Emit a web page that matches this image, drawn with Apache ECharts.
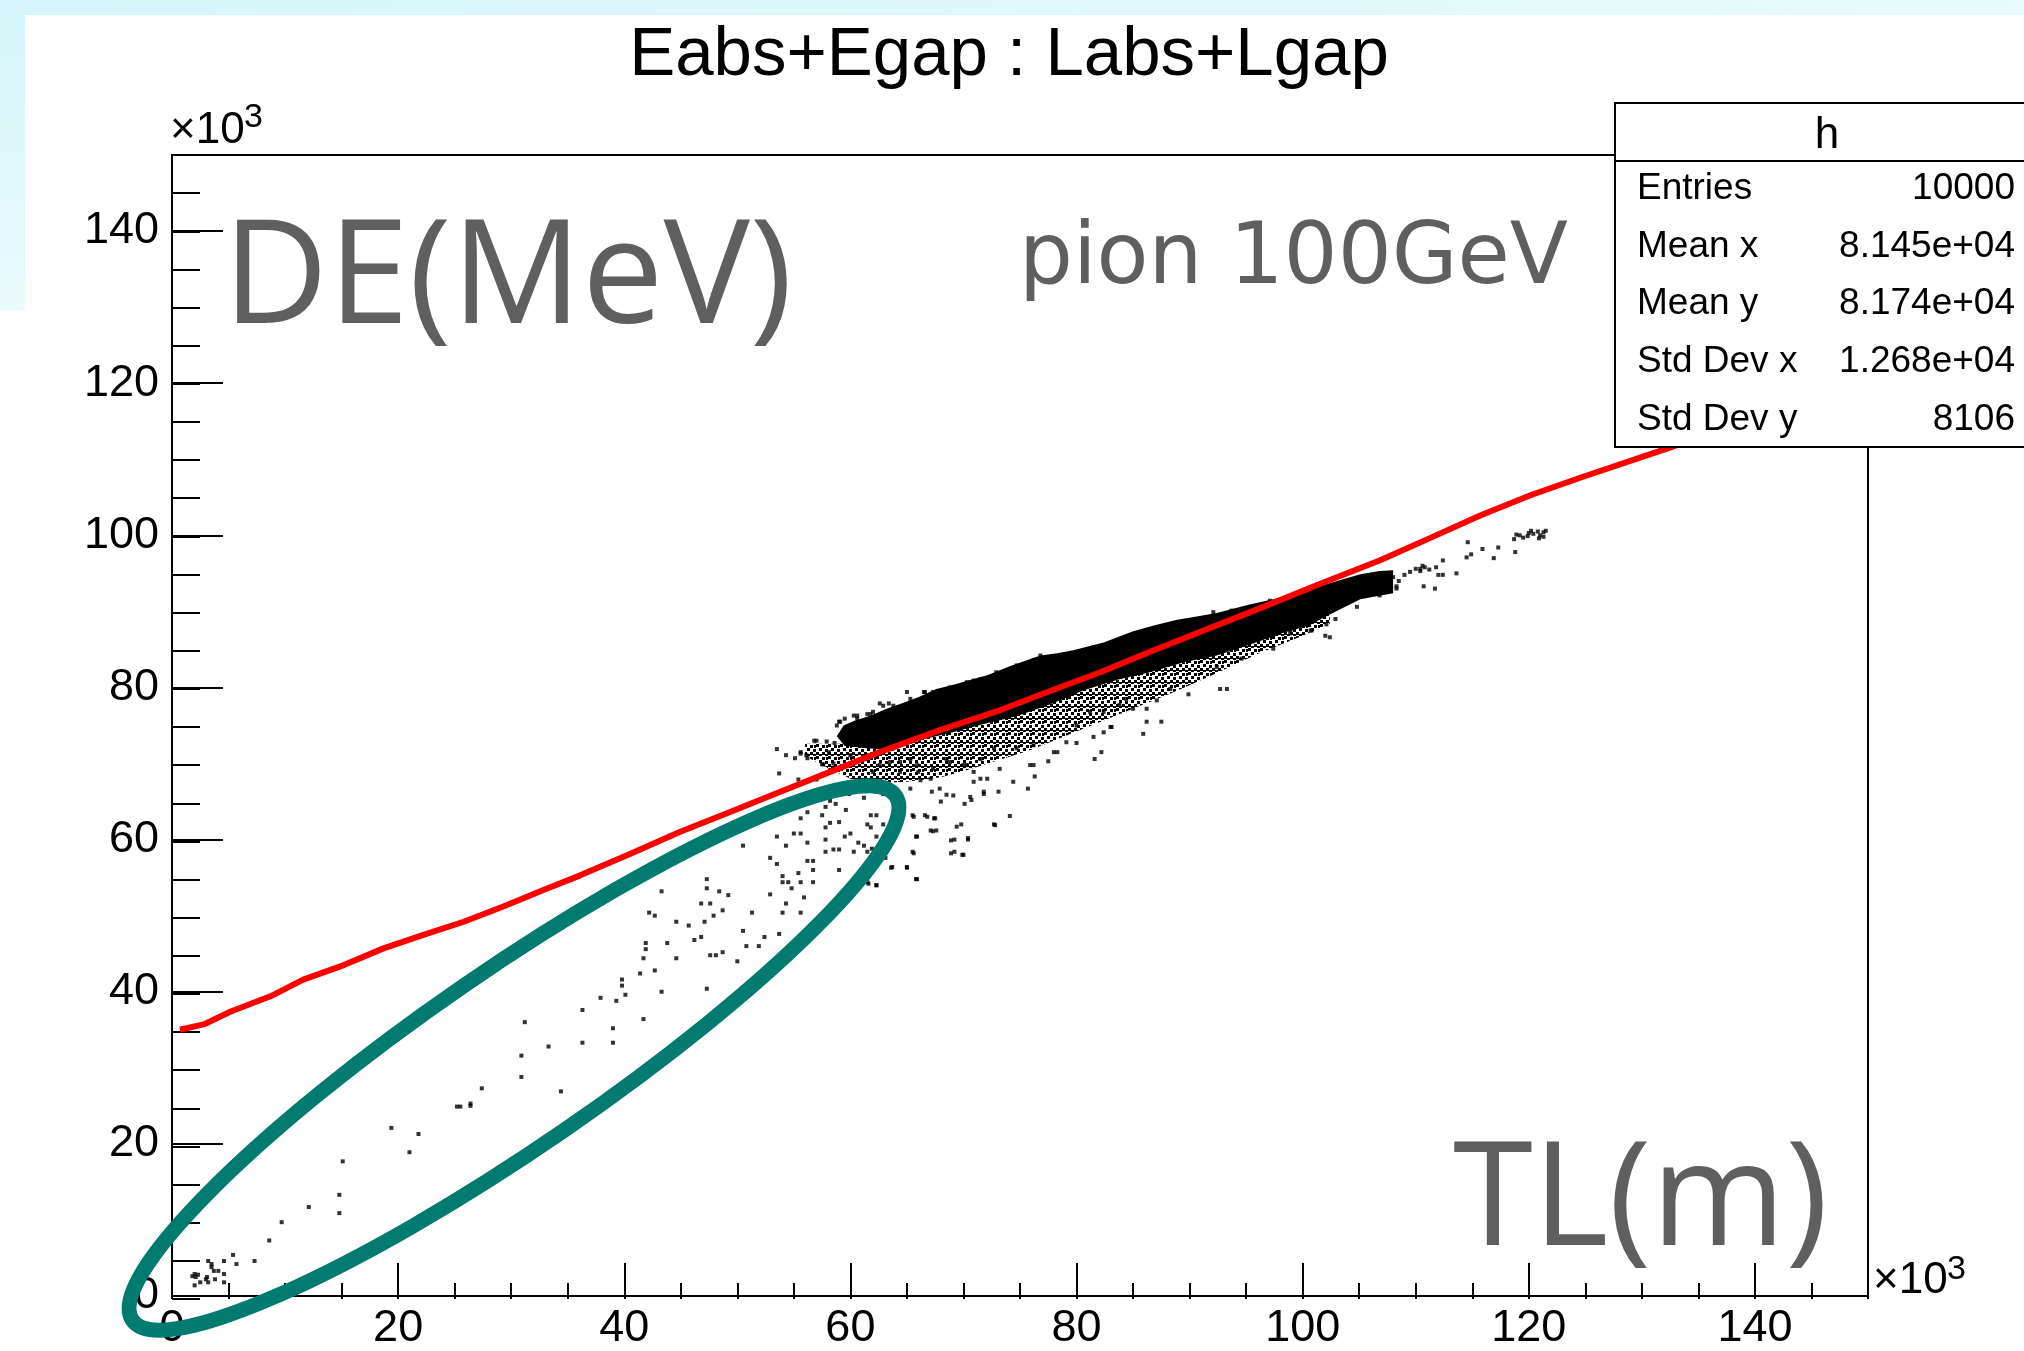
<!DOCTYPE html>
<html>
<head>
<meta charset="utf-8">
<script src="https://cdn.jsdelivr.net/npm/echarts@6/dist/echarts.min.js"></script>
<style>
  html, body { margin: 0; padding: 0; background: #fff; }
  #chart { width: 2024px; height: 1351px; }
</style>
</head>
<body>
<div id="chart"></div>
<script>
(() => {
  "use strict";

  // values in units of 10^3 (axes read "x10^3")
  const xRange = [0, 150];
  const yRange = [0, 150];

  // red profile line
  const profileLine = [
    [0.7, 35.0], [2.8, 35.7], [5.2, 37.4], [8.7, 39.4], [11.6, 41.6], [15.2, 43.5],
    [18.7, 45.7], [22.3, 47.5], [25.8, 49.2], [29.3, 51.2], [32.9, 53.4], [36.1, 55.3],
    [40.5, 58.1], [44.9, 61.0], [49.3, 63.6], [53.8, 66.3], [58.2, 68.9], [62.6, 71.5],
    [67.9, 74.4], [73.2, 77.0], [77.6, 79.5], [82.1, 82.0], [86.5, 84.7], [90.9, 87.3],
    [96.2, 90.4], [101.5, 93.6], [106.8, 96.7], [111.2, 99.6], [115.7, 102.6],
    [120.2, 105.3], [124.8, 107.7], [132.8, 111.7], [141.0, 116.0], [150.0, 120.5],
  ];

  // solid core of the scatter band: upper and lower edges
  const coreUpper = [
    [58.8, 73.6], [59.4, 75.0], [60.3, 75.6], [61.8, 76.3], [63.2, 77.2], [64.7, 78.0],
    [66.0, 78.7], [67.6, 79.8], [69.2, 80.4], [70.9, 81.1], [72.1, 81.6], [74.1, 82.8],
    [76.8, 84.2], [78.3, 84.5], [79.7, 84.9], [82.4, 85.9], [85.0, 87.4], [87.0, 88.2],
    [88.9, 88.9], [90.5, 89.3], [92.4, 89.8], [95.3, 90.9], [98.3, 91.9], [101.5, 93.3],
    [103.5, 94.2], [105.1, 94.9], [106.8, 95.3], [108.0, 95.4],
  ];
  const coreLower = [
    [59.5, 72.3], [62.9, 71.8], [65.9, 73.0], [68.8, 74.0], [71.8, 75.2], [74.7, 76.2],
    [77.7, 77.8], [80.6, 79.6], [83.6, 81.0], [86.5, 82.0], [89.5, 83.3], [92.4, 84.2],
    [95.3, 85.6], [98.3, 87.2], [100.5, 88.1], [102.4, 89.6], [105.1, 91.6], [108.0, 92.4],
  ];

  // speckled (half-filled) zone just under the core
  const speckleUpper = [
    [56.0, 72.6], [59.5, 72.6], [62.9, 72.2], [65.9, 73.3], [68.8, 74.3], [71.8, 75.5],
    [74.7, 76.5], [77.7, 78.1], [80.6, 79.9], [83.6, 81.3], [86.5, 82.3], [89.5, 83.6],
    [92.4, 84.5], [95.3, 85.9], [98.3, 87.5], [100.5, 88.4], [102.4, 89.8],
  ];
  const speckleLower = [
    [56.0, 71.0], [58.0, 69.4], [60.0, 68.0], [62.0, 67.4], [65.0, 67.6], [68.0, 68.2],
    [70.0, 69.0], [73.0, 70.4], [76.0, 71.8], [80.0, 74.2], [84.0, 76.6], [88.0, 79.0],
    [92.0, 81.6], [96.0, 84.4], [100.0, 86.8], [102.4, 88.4],
  ];

  // sparse low-energy tail (inside the drawn ellipse)
  const tailPoints = [
    [43.3, 53.2], [42.2, 50.4], [42.7, 50.0], [44.6, 49.2], [45.7, 48.7], [41.9, 46.4],
    [41.9, 45.6], [43.8, 46.4], [41.7, 44.4], [44.6, 44.4], [42.7, 42.8], [41.4, 42.4],
    [39.8, 41.6], [39.8, 40.8], [40.1, 39.6], [43.3, 40.0], [37.9, 39.2], [39.3, 38.8],
    [36.3, 37.6], [41.7, 36.4], [31.2, 36.0], [39.0, 35.2], [33.3, 32.8], [36.3, 33.3],
    [39.0, 33.3], [30.9, 31.6], [30.9, 28.8], [34.4, 26.9], [27.4, 27.3], [25.2, 24.9],
    [25.5, 24.9], [26.4, 25.0], [26.4, 25.3], [19.4, 22.1], [21.8, 21.3], [21.0, 18.9],
    [15.1, 17.7], [14.8, 13.3], [14.8, 10.9], [12.1, 11.7], [9.7, 9.7], [8.6, 7.3],
    [5.4, 5.4], [5.7, 4.2], [7.3, 4.6],
    [3.2, 4.6], [3.5, 3.8], [3.7, 3.3], [4.6, 4.6], [4.1, 3.3], [4.6, 2.9], [2.0, 2.9],
    [2.1, 2.5], [3.1, 2.5], [3.8, 2.2], [3.2, 1.8], [4.6, 1.8], [2.5, 1.8], [2.0, 1.4],
    [1.8, 2.6], [2.3, 2.8], [3.5, 4.2], [3.0, 2.2],
    [47.3, 54.8], [47.3, 53.6], [48.4, 53.2], [49.2, 52.7], [46.8, 51.6], [47.6, 51.6],
    [48.7, 50.7], [47.9, 50.0], [47.1, 49.2], [46.8, 47.2], [46.2, 46.8], [47.6, 44.8],
    [48.1, 44.8], [48.7, 45.2], [50.0, 44.0], [47.3, 40.4], [50.5, 48.0], [50.8, 46.0],
    [51.9, 46.0], [52.4, 47.2], [53.7, 47.6], [51.3, 50.4], [50.5, 59.2], [52.9, 52.8],
    [54.0, 50.4], [55.6, 50.4], [54.3, 51.6], [54.8, 53.6], [55.9, 52.4], [54.0, 54.4],
    [54.5, 54.4], [55.6, 54.4], [56.7, 54.4], [54.0, 55.2], [52.9, 57.6], [53.5, 56.8],
    [55.4, 55.6], [56.2, 57.2], [56.7, 57.2], [56.7, 56.0], [53.5, 60.4], [54.3, 59.2],
    [55.0, 60.8], [55.6, 60.8], [56.2, 59.6], [55.6, 62.8], [56.2, 63.6], [57.5, 63.2],
    [57.8, 61.6], [57.8, 60.0], [57.8, 58.4], [58.5, 58.7], [59.0, 58.7], [59.0, 62.3],
    [58.2, 62.2], [59.5, 60.4], [60.0, 60.8], [60.3, 58.4], [61.5, 58.4], [61.2, 59.2],
    [60.7, 59.6], [61.8, 63.2], [62.3, 63.2], [61.5, 62.0], [61.8, 61.6], [62.9, 62.0],
    [62.3, 60.4], [59.0, 56.0], [61.5, 54.4], [62.3, 54.0], [63.1, 57.6], [63.7, 56.4],
    [65.0, 56.4], [65.8, 54.8], [65.5, 58.4], [65.8, 60.4], [65.5, 63.2], [66.6, 63.2],
    [67.4, 62.8], [67.1, 61.2], [67.6, 61.2], [69.2, 60.0], [70.0, 58.0], [69.2, 58.4],
    [70.4, 60.0], [69.8, 62.0], [72.7, 62.0], [58.7, 66.0], [59.3, 66.7], [59.9, 66.0],
    [61.2, 65.5], [62.3, 66.3], [62.9, 66.0], [58.2, 65.1], [58.7, 64.7], [59.6, 63.9],
    [57.8, 64.3],
  ];

  // loose points around the dense band
  const fringePoints = [
    [53.5, 71.9], [54.3, 71.1], [55.1, 70.7], [55.6, 71.5], [56.2, 70.7], [53.7, 68.7],
    [55.4, 67.9], [57.5, 69.9], [58.1, 71.5], [58.6, 72.7], [57.0, 67.9], [58.2, 69.1],
    [65.3, 70.6], [66.0, 68.9], [67.1, 68.0], [68.5, 70.6], [70.0, 69.8], [70.9, 68.9],
    [71.5, 70.6], [72.1, 68.0], [72.7, 72.0], [67.9, 66.7], [69.1, 65.8], [70.6, 65.6],
    [71.8, 66.0], [65.3, 66.7], [66.2, 67.8], [64.4, 68.9], [63.5, 70.2], [62.0, 68.9],
    [61.5, 70.6], [62.6, 77.9], [63.4, 77.9], [60.3, 76.3], [61.5, 76.5], [59.0, 75.5],
    [56.8, 73.0], [57.9, 72.9], [65.0, 79.4], [66.5, 79.4], [67.9, 78.9], [69.1, 79.4],
    [70.6, 80.3], [71.5, 81.1], [57.0, 73.0], [55.6, 71.3], [56.1, 71.1], [57.6, 69.9],
    [58.5, 70.0], [59.1, 75.5], [59.5, 75.9], [60.6, 76.3], [61.8, 76.5], [62.9, 77.6],
    [66.6, 79.4], [60.0, 71.1], [61.5, 71.1], [62.6, 69.8], [64.4, 70.2], [65.9, 69.8],
    [67.3, 69.3], [68.8, 70.2], [70.3, 69.8], [71.5, 68.0], [73.2, 69.3], [74.7, 72.0],
    [76.2, 72.4], [76.2, 69.8], [78.0, 71.5], [79.1, 72.8], [80.0, 75.0], [81.5, 73.5],
    [82.4, 74.1], [83.0, 74.8], [81.6, 70.6], [82.2, 71.5], [85.9, 73.9], [86.2, 75.5],
    [87.5, 75.5], [87.1, 78.3], [88.3, 79.8], [89.9, 79.1], [92.7, 79.8], [93.3, 79.8],
    [92.4, 82.7], [94.6, 83.8], [97.4, 85.1], [100.7, 87.5], [96.8, 87.5], [98.9, 87.5],
    [65.6, 63.0], [66.8, 63.0], [67.5, 62.8], [69.4, 61.7], [70.4, 60.2], [68.9, 59.9],
    [72.8, 61.9], [74.1, 63.1], [69.9, 58.0], [68.9, 58.2], [67.3, 61.1], [65.9, 60.4],
    [65.6, 58.2], [65.0, 56.3], [63.6, 56.3], [65.9, 54.8], [62.3, 54.0], [61.6, 54.2],
    [62.7, 57.5], [61.9, 58.8], [73.1, 66.3], [71.8, 66.3], [70.9, 67.6], [70.1, 64.7],
    [70.7, 65.2], [68.0, 65.0], [67.2, 66.3], [68.5, 65.9], [75.7, 66.7], [76.3, 68.3],
    [74.4, 67.6], [75.9, 69.8], [77.5, 70.3], [78.3, 71.5], [80.0, 72.7], [86.2, 77.2],
    [85.0, 77.2], [84.4, 78.5], [83.8, 77.7], [81.2, 76.8], [82.4, 76.8], [83.1, 74.8],
    [70.9, 80.9], [76.8, 84.2], [78.1, 83.4], [81.5, 85.3], [92.1, 89.9], [93.7, 90.1],
    [97.1, 91.4], [102.0, 86.8],
    [58.8, 75.0], [60.6, 75.9], [62.0, 76.8], [63.8, 77.6], [65.3, 78.5], [67.3, 79.4],
    [68.8, 80.0], [70.3, 80.7], [72.9, 82.0], [74.7, 82.9], [76.2, 83.6], [78.5, 84.2],
    [80.6, 84.6], [83.6, 86.0], [86.5, 87.3], [88.6, 88.4], [90.9, 89.0],
    [110.4, 95.6], [111.8, 95.8], [112.4, 96.7], [114.5, 97.1], [114.9, 97.5], [115.9, 98.2],
    [116.9, 97.0], [117.3, 98.4], [118.8, 97.8], [114.6, 99.1], [111.7, 93.0], [110.7, 93.3],
    [113.6, 95.0], [112.4, 94.8], [104.8, 90.6], [102.9, 89.0], [102.1, 88.3], [102.4, 86.6],
    [100.8, 87.5], [98.9, 87.1], [106.8, 92.1], [108.3, 93.0], [110.0, 95.6], [110.4, 95.3],
    [110.8, 95.8], [111.2, 95.5], [110.6, 96.0], [112.0, 94.8], [108.0, 94.5], [108.5, 94.0],
    [109.0, 94.8], [108.3, 93.3], [109.5, 95.2], [107.8, 93.0],
    [118.7, 99.5], [119.2, 100.0], [119.5, 99.7], [120.0, 100.3], [120.4, 100.2],
    [120.8, 100.5], [121.3, 100.4], [121.3, 99.8], [120.9, 99.6], [119.9, 99.9],
    [118.9, 100.1], [121.0, 100.0], [121.5, 100.6], [120.2, 100.6],
  ];

  const titleText = "Eabs+Egap : Labs+Lgap";
  const statsTitle = "h";
  const statsRows = [
    ["Entries", "10000"],
    ["Mean x", "8.145e+04"],
    ["Mean y", "8.174e+04"],
    ["Std Dev x", "1.268e+04"],
    ["Std Dev y", "8106"],
  ];

  const rootFont = "'Liberation Sans', Arial, Helvetica, sans-serif";
  const noteColor = "#5f5f5f";
  const grid = { left: 172, right: 156, top: 155, bottom: 52 };

  // dotted fill used for the half-filled zone (ROOT scatter look)
  const speckle = document.createElement("canvas");
  speckle.width = 12;
  speckle.height = 12;
  const sctx = speckle.getContext("2d");
  sctx.fillStyle = "#000";
  [[0, 0], [6, 1], [3, 4], [9, 5], [0, 8], [6, 8], [10, 1], [3, 10], [9, 10]]
    .forEach(([px, py]) => sctx.fillRect(px, py, 3, 3));

  const chart = echarts.init(document.getElementById("chart"), null, { renderer: "canvas" });

  const outlineSeries = (name, upper, lower, fill, z) => ({
    name,
    type: "custom",
    coordinateSystem: "cartesian2d",
    data: [upper[0]],
    z,
    renderItem: (params, api) => {
      const outline = upper.concat(lower.slice().reverse()).map((p) => api.coord(p));
      return { type: "polygon", shape: { points: outline }, style: { fill } };
    },
  });

  const majorAxis = (range, tickLen, labelMargin) => ({
    type: "value",
    min: range[0],
    max: range[1],
    interval: 20,
    axisLine: { show: true, lineStyle: { color: "#000", width: 2 } },
    axisTick: { show: true, inside: true, length: tickLen, lineStyle: { color: "#000", width: 2 } },
    axisLabel: {
      show: true, color: "#000", fontFamily: rootFont, fontSize: 45,
      margin: labelMargin, showMaxLabel: false,
    },
    splitLine: { show: false },
  });
  const minorAxis = (range, tickLen) => ({
    type: "value",
    gridIndex: 1,
    min: range[0],
    max: range[1],
    interval: 5,
    axisLine: { show: false },
    axisTick: { show: true, inside: true, length: tickLen, lineStyle: { color: "#000", width: 2 } },
    axisLabel: { show: false },
    splitLine: { show: false },
  });

  const statsBox = { x: 1615, y: 103, w: 440, h: 344, head: 58, rowTop: 189, rowGap: 57.6 };
  const statsElements = [
    {
      type: "rect", z: 100,
      shape: { x: statsBox.x, y: statsBox.y, width: statsBox.w, height: statsBox.h },
      style: { fill: "#fff", stroke: "#000", lineWidth: 2 },
    },
    {
      type: "line", z: 101,
      shape: { x1: statsBox.x, y1: statsBox.y + statsBox.head, x2: statsBox.x + statsBox.w, y2: statsBox.y + statsBox.head },
      style: { stroke: "#000", lineWidth: 2 },
    },
    {
      type: "text", z: 101, x: 1827, y: 136,
      style: { text: statsTitle, fontFamily: rootFont, fontSize: 44, fill: "#000", align: "center", verticalAlign: "middle" },
    },
  ];
  statsRows.forEach(([label, value], i) => {
    const y = statsBox.rowTop + i * statsBox.rowGap;
    statsElements.push(
      { type: "text", z: 101, x: 1637, y,
        style: { text: label, fontFamily: rootFont, fontSize: 37, fill: "#000", align: "left", verticalAlign: "middle" } },
      { type: "text", z: 101, x: 2015, y,
        style: { text: value, fontFamily: rootFont, fontSize: 37, fill: "#000", align: "right", verticalAlign: "middle" } },
    );
  });

  chart.setOption({
    animation: false,
    backgroundColor: "#fff",
    grid: [
      { ...grid, show: true, backgroundColor: "#fff", borderColor: "#000", borderWidth: 2 },
      { ...grid, show: false },
    ],
    xAxis: [majorAxis(xRange, 33, 10), minorAxis(xRange, 16)],
    yAxis: [majorAxis(yRange, 51, 13), minorAxis(yRange, 28)],
    series: [
      outlineSeries("speckle", speckleUpper, speckleLower,
        { type: "pattern", image: speckle, repeat: "repeat" }, 1),
      outlineSeries("core", coreUpper, coreLower, "#000", 2),
      {
        name: "tail",
        type: "scatter",
        symbol: "rect",
        symbolSize: 4,
        itemStyle: { color: "#000" },
        data: tailPoints,
        z: 3,
      },
      {
        name: "fringe",
        type: "scatter",
        symbol: "rect",
        symbolSize: 4,
        itemStyle: { color: "#000" },
        data: fringePoints,
        z: 3,
      },
      {
        name: "profile",
        type: "line",
        showSymbol: false,
        symbol: "none",
        lineStyle: { color: "#ff0000", width: 6 },
        data: profileLine,
        z: 5,
      },
    ],
    graphic: [
      // slide background strips
      {
        type: "rect", z: 0, shape: { x: 0, y: 0, width: 2024, height: 15 },
        style: { fill: new echarts.graphic.LinearGradient(0, 0, 1, 0, [
          { offset: 0, color: "#d5f5fa" }, { offset: 1, color: "#e8fbfd" }]) },
      },
      {
        type: "rect", z: 0, shape: { x: 0, y: 0, width: 25, height: 310 },
        style: { fill: new echarts.graphic.LinearGradient(0, 0, 0, 1, [
          { offset: 0, color: "#d5f5fa" }, { offset: 1, color: "#eafbfd" }]) },
      },
      {
        type: "text", z: 50, x: 1009, y: 56,
        style: { text: titleText, fontFamily: rootFont, fontSize: 69, fill: "#000", align: "center", verticalAlign: "middle" },
      },
      // x10^3 multipliers
      { type: "text", z: 50, x: 170, y: 131,
        style: { text: "×10", fontFamily: rootFont, fontSize: 44, fill: "#000", align: "left", verticalAlign: "middle" } },
      { type: "text", z: 50, x: 244, y: 118,
        style: { text: "3", fontFamily: rootFont, fontSize: 34, fill: "#000", align: "left", verticalAlign: "middle" } },
      { type: "text", z: 50, x: 1873, y: 1281,
        style: { text: "×10", fontFamily: rootFont, fontSize: 44, fill: "#000", align: "left", verticalAlign: "middle" } },
      { type: "text", z: 50, x: 1947, y: 1270,
        style: { text: "3", fontFamily: rootFont, fontSize: 34, fill: "#000", align: "left", verticalAlign: "middle" } },
      // slide annotations
      { type: "text", z: 50, x: 223, y: 282,
        style: { text: "DE(MeV)", fontFamily: "'Open Sans', sans-serif", fontSize: 145, fill: noteColor, align: "left", verticalAlign: "middle" } },
      { type: "text", z: 50, x: 1019, y: 261,
        style: { text: "pion 100GeV", fontFamily: "'DejaVu Sans', sans-serif", fontSize: 85, fill: noteColor, align: "left", verticalAlign: "middle" } },
      { type: "text", z: 50, x: 1453, y: 1204,
        style: { text: "TL(m)", fontFamily: "'Open Sans', sans-serif", fontSize: 145, fill: noteColor, align: "left", verticalAlign: "middle" } },
      {
        type: "ellipse", z: 100, x: 514, y: 1058, rotation: 34.5 * Math.PI / 180,
        shape: { cx: 0, cy: 0, rx: 463, ry: 88 },
        style: { fill: "none", stroke: "#017a70", lineWidth: 15 },
      },
      ...statsElements,
    ],
  });
})();
</script>
</body>
</html>
